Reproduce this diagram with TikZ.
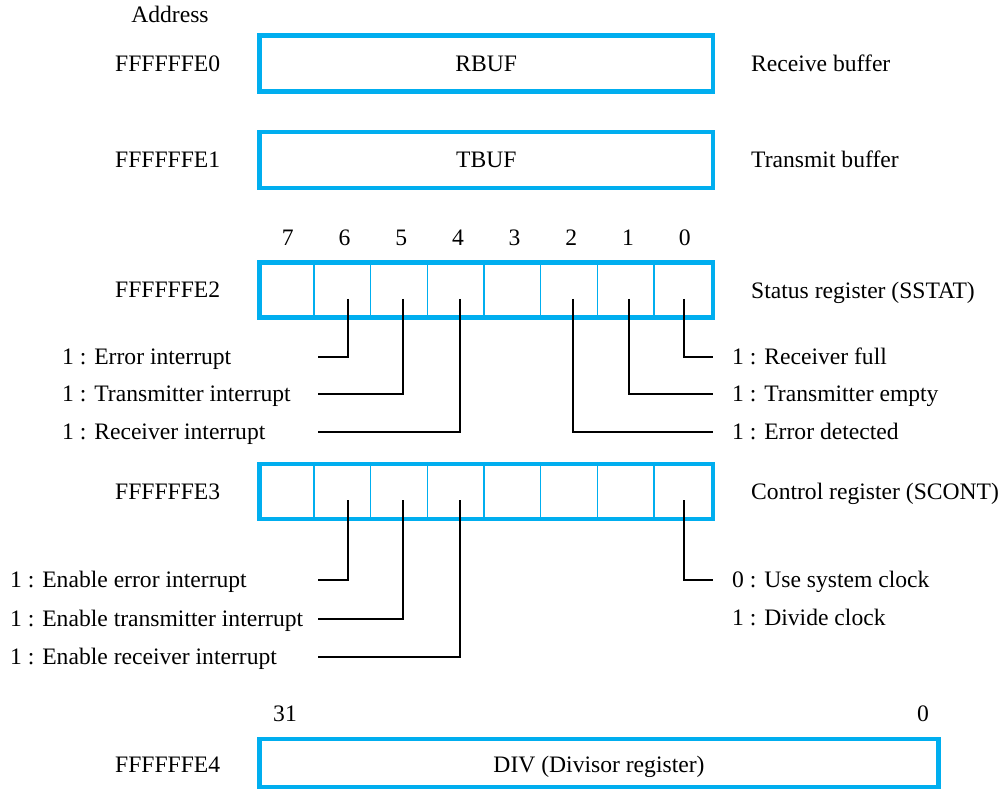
\documentclass[tikz,border=0pt]{standalone}
\usepackage{fontspec}
\setmainfont{Liberation Serif}
\definecolor{regblue}{RGB}{0,174,239}
\begin{document}
\begin{tikzpicture}[x=1pt,y=-1pt, font=\fontsize{23.6}{28}\selectfont,
  reg/.style={draw=regblue, line width=4.5pt, inner sep=0pt},
  cellsep/.style={draw=regblue, line width=1.5pt},
  lead/.style={draw=black, line width=2pt},
  txt/.style={inner sep=0pt, anchor=base west},
  ctxt/.style={inner sep=0pt, anchor=base}]
\useasboundingbox (0,0) rectangle (1006,791);
\def\cw{56.6875}
% registers
\node[reg, minimum width=453.5pt, minimum height=56pt] (rbuf) at (486.25,63.5) {RBUF};
\node[reg, minimum width=453.5pt, minimum height=56pt] (tbuf) at (486.25,160) {TBUF};
\node[reg, minimum width=453.5pt, minimum height=55pt] (sstat) at (486.25,290) {};
\node[reg, minimum width=453.5pt, minimum height=55pt] (scont) at (486.25,491.5) {};
\node[reg, minimum width=679pt, minimum height=48pt] (div) at (599,763) {};
\node[ctxt] (divtxt) at (599,772) {DIV (Divisor register)};
\foreach \i in {1,...,7}{
  \draw[cellsep] ([xshift=\i*\cw pt]sstat.north west) -- ([xshift=\i*\cw pt]sstat.south west);
  \draw[cellsep] ([xshift=\i*\cw pt]scont.north west) -- ([xshift=\i*\cw pt]scont.south west);
}
% addresses
\node[ctxt] (addr) at (170,22.5) {Address};
\node[txt] (a0) at (115,71.5) {FFFFFFE0};
\node[txt] (a1) at (115,168) {FFFFFFE1};
\node[txt] (a2) at (115,298) {FFFFFFE2};
\node[txt] (a3) at (115,499) {FFFFFFE3};
\node[txt] (a4) at (115,772) {FFFFFFE4};
% right descriptions
\node[txt] (d0) at (751,71.5) {Receive buffer};
\node[txt] (d1) at (751,168) {Transmit buffer};
\node[txt] (d2) at (751,298.5) {Status register (SSTAT)};
\node[txt] (d3) at (751,499) {Control register (SCONT)};
% bit numbers
\foreach \b [count=\i] in {7,6,5,4,3,2,1,0}
  \node[ctxt] (bit\b) at (259.5+\i*\cw-0.5*\cw,245.5) {\b};
\node[ctxt] (b31) at (285,721.5) {31};
\node[ctxt] (b0) at (923,721.5) {0};
% status leaders
\coordinate (s6) at (347.5,299); \coordinate (se6) at (318,357);
\coordinate (s5) at (403,299); \coordinate (se5) at (318,394);
\coordinate (s4) at (460,299); \coordinate (se4) at (318,432);
\coordinate (s2) at (573,299); \coordinate (se2) at (713,432);
\coordinate (s1) at (629,299); \coordinate (se1) at (713,394);
\coordinate (s0) at (684,299); \coordinate (se0) at (713,357);
\draw[lead] (s6) |- (se6);
\draw[lead] (s5) |- (se5);
\draw[lead] (s4) |- (se4);
\draw[lead] (s2) |- (se2);
\draw[lead] (s1) |- (se1);
\draw[lead] (s0) |- (se0);
\node[txt] (ls6) at (62,364.5) {1 : Error interrupt};
\node[txt] (ls5) at (62,401.5) {1 : Transmitter interrupt};
\node[txt] (ls4) at (62,439.5) {1 : Receiver interrupt};
\node[txt] (ls0) at (732,364.5) {1 : Receiver full};
\node[txt] (ls1) at (732,401.5) {1 : Transmitter empty};
\node[txt] (ls2) at (732,439.5) {1 : Error detected};
% control leaders
\coordinate (c6) at (347.5,500); \coordinate (ce6) at (318,580);
\coordinate (c5) at (403,500); \coordinate (ce5) at (318,619);
\coordinate (c4) at (460,500); \coordinate (ce4) at (318,657);
\coordinate (c0) at (684,500); \coordinate (ce0) at (713,580);
\draw[lead] (c6) |- (ce6);
\draw[lead] (c5) |- (ce5);
\draw[lead] (c4) |- (ce4);
\draw[lead] (c0) |- (ce0);
\node[txt] (lc6) at (10,587.5) {1 : Enable error interrupt};
\node[txt] (lc5) at (10,626) {1 : Enable transmitter interrupt};
\node[txt] (lc4) at (10,664) {1 : Enable receiver interrupt};
\node[txt] (lc0) at (732,587.5) {0 : Use system clock};
\node[txt] (lc1) at (732,625) {1 : Divide clock};
\end{tikzpicture}
\end{document}
